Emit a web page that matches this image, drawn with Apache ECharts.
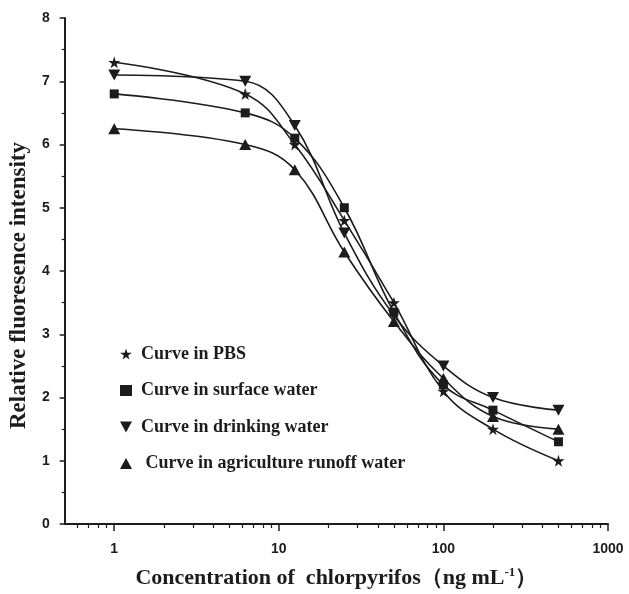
<!DOCTYPE html>
<html>
<head>
<meta charset="utf-8">
<script src="https://cdn.jsdelivr.net/npm/echarts@6/dist/echarts.min.js"></script>
<style>
  html, body { margin: 0; padding: 0; background: #fff; }
  #main { width: 629px; height: 594px; }
</style>
</head>
<body>
<div id="main"></div>
<script>
// concentrations of chlorpyrifos (ng/mL)
const concentrations = [1, 6.25, 12.5, 25, 50, 100, 200, 500];

// relative fluorescence intensity
const pbs = [7.3, 6.8, 6.0, 4.8, 3.5, 2.1, 1.5, 1.0];
const surfaceWater = [6.8, 6.5, 6.1, 5.0, 3.35, 2.2, 1.8, 1.3];
const drinkingWater = [7.1, 7.0, 6.3, 4.6, 3.3, 2.5, 2.0, 1.8];
const runoffWater = [6.25, 6.0, 5.6, 4.3, 3.2, 2.3, 1.7, 1.5];

const seriesNames = ['Curve in PBS', 'Curve in surface water', 'Curve in drinking water', ' Curve in agriculture runoff water'];
const minorTickValues = [0.6, 0.7, 0.8, 0.9, 2, 3, 4, 5, 6, 7, 8, 9, 20, 30, 40, 50, 60, 70, 80, 90, 200, 300, 400, 500, 600, 700, 800, 900];

const starIcon = 'path://M50,0 L61,35 L98,35 L68,57 L79,91 L50,70 L21,91 L32,57 L2,35 L39,35 Z';
const downIcon = 'path://M0,0 L10,0 L5,9 Z';
const upIcon = 'path://M5,0 L10,9 L0,9 Z';
const squareIcon = 'rect';

const ink = '#1c1c1c';
const serif = '"Liberation Serif", "Times New Roman", serif';
const sans = '"Liberation Sans", Arial, sans-serif';

function pairs(ys) {
  return concentrations.map((x, i) => [x, ys[i]]);
}

function makeSeries(name, ys, symbol, size) {
  return {
    name: name,
    type: 'line',
    data: pairs(ys),
    smooth: 0.4,
    symbol: symbol,
    symbolSize: size,
    lineStyle: { color: ink, width: 1.6 },
    itemStyle: { color: ink },
    z: 3
  };
}

let myChart = echarts.init(document.getElementById('main'));
myChart.setOption({
  animation: false,
  backgroundColor: '#fff',
  grid: { left: 61, right: 21, top: 18, bottom: 68, containLabel: false },
  legend: {
    orient: 'vertical',
    left: 115,
    top: 339,
    itemWidth: 12,
    itemHeight: 11,
    itemGap: 16.5,
    data: [
      { name: seriesNames[0], icon: starIcon },
      { name: seriesNames[1], icon: squareIcon },
      { name: seriesNames[2], icon: downIcon },
      { name: seriesNames[3], icon: upIcon }
    ],
    itemStyle: { color: ink },
    textStyle: {
      fontFamily: serif,
      fontWeight: 'bold',
      fontSize: 18,
      lineHeight: 20,
      color: ink,
      padding: [0, 0, 0, 4]
    }
  },
  xAxis: [
    {
      type: 'log',
      logBase: 10,
      min: 0.5,
      max: 1000,
      name: 'Concentration of  chlorpyrifos（ng mL{sup|-1}）',
      nameLocation: 'middle',
      nameGap: 42,
      nameTextStyle: {
        fontFamily: serif,
        fontWeight: 'bold',
        fontSize: 22,
        color: ink,
        rich: {
          sup: { fontFamily: serif, fontWeight: 'bold', fontSize: 13, verticalAlign: 'top', padding: [0, 0, 11, 0], color: ink }
        }
      },
      axisLine: { lineStyle: { color: ink, width: 2 } },
      axisTick: { length: 7, lineStyle: { color: ink, width: 1.5 } },
      axisLabel: {
        showMinLabel: false,
        margin: 18,
        fontFamily: sans,
        fontWeight: 'bold',
        fontSize: 14,
        color: ink,
        formatter: function (v) { return String(Math.round(v)); }
      },
      splitLine: { show: false }
    },
    {
      type: 'log',
      logBase: 10,
      min: 0.5,
      max: 1000,
      position: 'bottom',
      axisLine: { show: false },
      axisTick: { customValues: minorTickValues, length: 4, lineStyle: { color: ink, width: 1.2 } },
      axisLabel: { show: false },
      splitLine: { show: false }
    }
  ],
  yAxis: {
    type: 'value',
    min: 0,
    max: 8,
    interval: 1,
    name: 'Relative fluoresence intensity',
    nameLocation: 'middle',
    nameGap: 29,
    nameTextStyle: {
      fontFamily: serif,
      fontWeight: 'bold',
      fontSize: 23,
      color: ink,
      padding: [0, 29, 0, 0]
    },
    axisLine: { show: true, lineStyle: { color: ink, width: 2 } },
    axisTick: { show: true, length: 5, lineStyle: { color: ink, width: 1.5 } },
    minorTick: { show: true, splitNumber: 2, length: 3, lineStyle: { color: ink, width: 1.2 } },
    axisLabel: {
      margin: 15,
      fontFamily: sans,
      fontWeight: 'bold',
      fontSize: 14,
      color: ink
    },
    splitLine: { show: false }
  },
  series: [
    makeSeries(seriesNames[0], pbs, starIcon, 12),
    makeSeries(seriesNames[1], surfaceWater, squareIcon, 9),
    makeSeries(seriesNames[2], drinkingWater, downIcon, [12, 11]),
    makeSeries(seriesNames[3], runoffWater, upIcon, [12, 11])
  ]
});
</script>
</body>
</html>
